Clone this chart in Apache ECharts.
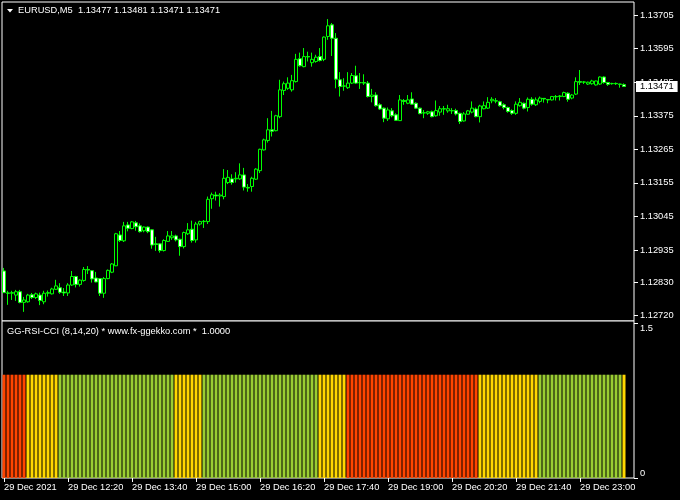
<!DOCTYPE html>
<html>
<head>
<meta charset="utf-8">
<script src="https://cdn.jsdelivr.net/npm/echarts@6/dist/echarts.min.js"></script>
<style>
html,body{margin:0;padding:0;background:#000;}
#chart{width:680px;height:500px;}
</style>
</head>
<body>
<div id="chart"></div>
<script>
// ---- Data (EURUSD M5, 29 Dec 2021, 11:00 .. 23:55) ----
const startTime = '11:00';
const barMinutes = 5;
const openP = [
1.12866,1.12794,1.12793,1.12787,1.12798,1.12763,1.12765,1.12788,1.12779,1.12787,
1.12765,1.12793,1.12791,1.12806,1.12811,1.12797,1.12794,1.12820,1.12848,1.12822,
1.12835,1.12871,1.12867,1.12843,1.12841,1.12793,1.12841,1.12862,1.12883,1.12984,
1.12965,1.13017,1.13005,1.13024,1.13014,1.12998,1.13010,1.13001,1.12955,1.12955,
1.12933,1.12963,1.12975,1.12981,1.12970,1.12946,1.12988,1.13003,1.12968,1.13020,
1.13028,1.13028,1.13103,1.13115,1.13112,1.13110,1.13156,1.13168,1.13168,1.13168,
1.13181,1.13140,1.13143,1.13167,1.13195,1.13263,1.13294,1.13329,1.13326,1.13372,
1.13458,1.13465,1.13460,1.13487,1.13562,1.13536,1.13569,1.13549,1.13553,1.13569,
1.13560,1.13635,1.13673,1.13629,1.13493,1.13472,1.13467,1.13482,1.13506,1.13483,
1.13484,1.13482,1.13438,1.13443,1.13411,1.13400,1.13365,1.13391,1.13378,1.13359,
1.13425,1.13416,1.13430,1.13416,1.13400,1.13384,1.13383,1.13388,1.13375,1.13387,
1.13398,1.13391,1.13392,1.13392,1.13383,1.13358,1.13380,1.13387,1.13397,1.13372,
1.13398,1.13400,1.13424,1.13424,1.13421,1.13411,1.13402,1.13392,1.13383,1.13408,
1.13416,1.13402,1.13429,1.13411,1.13422,1.13432,1.13428,1.13427,1.13438,1.13438,
1.13438,1.13449,1.13433,1.13446,1.13487,1.13485,1.13479,1.13480,1.13476,1.13479,
1.13502,1.13484,1.13480,1.13481,1.13479,1.13477];
const closeP = [
1.12795,1.12793,1.12795,1.12798,1.12763,1.12771,1.12787,1.12779,1.12791,1.12769,
1.12793,1.12795,1.12807,1.12817,1.12796,1.12794,1.12820,1.12848,1.12822,1.12836,
1.12871,1.12869,1.12840,1.12830,1.12793,1.12841,1.12868,1.12889,1.12988,1.12966,
1.13014,1.13006,1.13027,1.13011,1.12995,1.13010,1.12995,1.12951,1.12953,1.12933,
1.12966,1.12981,1.12981,1.12968,1.12946,1.12992,1.13001,1.12966,1.13020,1.13028,
1.13029,1.13101,1.13116,1.13112,1.13115,1.13170,1.13173,1.13156,1.13170,1.13181,
1.13141,1.13138,1.13170,1.13200,1.13265,1.13296,1.13329,1.13324,1.13375,1.13460,
1.13480,1.13482,1.13490,1.13560,1.13539,1.13569,1.13568,1.13560,1.13567,1.13556,
1.13633,1.13670,1.13629,1.13495,1.13471,1.13473,1.13482,1.13507,1.13482,1.13484,
1.13482,1.13438,1.13443,1.13408,1.13397,1.13367,1.13394,1.13375,1.13360,1.13427,
1.13422,1.13427,1.13413,1.13400,1.13382,1.13385,1.13388,1.13372,1.13392,1.13398,
1.13397,1.13398,1.13391,1.13381,1.13356,1.13381,1.13391,1.13400,1.13372,1.13407,
1.13408,1.13419,1.13429,1.13423,1.13408,1.13402,1.13389,1.13383,1.13413,1.13419,
1.13400,1.13429,1.13413,1.13427,1.13433,1.13430,1.13427,1.13438,1.13437,1.13440,
1.13451,1.13429,1.13443,1.13487,1.13485,1.13486,1.13485,1.13489,1.13489,1.13502,
1.13484,1.13478,1.13481,1.13480,1.13478,1.13471];
const highP = [
1.12876,1.12801,1.12801,1.12804,1.12804,1.12781,1.12791,1.12794,1.12795,1.12795,
1.12801,1.12802,1.12811,1.12837,1.12826,1.12810,1.12826,1.12866,1.12850,1.12839,
1.12879,1.12882,1.12869,1.12863,1.12843,1.12846,1.12871,1.12892,1.12991,1.12997,
1.13027,1.13027,1.13030,1.13030,1.13022,1.13012,1.13012,1.13003,1.12978,1.12957,
1.12970,1.12997,1.12997,1.12985,1.12972,1.12995,1.13023,1.13031,1.13027,1.13031,
1.13033,1.13110,1.13123,1.13126,1.13121,1.13200,1.13197,1.13183,1.13190,1.13219,
1.13204,1.13151,1.13175,1.13203,1.13267,1.13300,1.13367,1.13391,1.13378,1.13493,
1.13487,1.13501,1.13509,1.13578,1.13582,1.13597,1.13585,1.13582,1.13575,1.13597,
1.13635,1.13692,1.13679,1.13646,1.13518,1.13498,1.13518,1.13515,1.13539,1.13515,
1.13511,1.13489,1.13463,1.13452,1.13416,1.13402,1.13402,1.13400,1.13383,1.13443,
1.13430,1.13443,1.13452,1.13419,1.13402,1.13394,1.13391,1.13392,1.13425,1.13407,
1.13407,1.13411,1.13400,1.13398,1.13385,1.13387,1.13394,1.13422,1.13402,1.13411,
1.13422,1.13436,1.13436,1.13433,1.13424,1.13416,1.13405,1.13396,1.13422,1.13433,
1.13418,1.13435,1.13436,1.13435,1.13438,1.13433,1.13430,1.13440,1.13443,1.13443,
1.13454,1.13452,1.13446,1.13501,1.13525,1.13489,1.13487,1.13493,1.13490,1.13504,
1.13504,1.13486,1.13483,1.13484,1.13480,1.13481];
const lowP = [
1.12794,1.12755,1.12771,1.12768,1.12760,1.12732,1.12762,1.12774,1.12774,1.12754,
1.12757,1.12782,1.12789,1.12804,1.12791,1.12784,1.12784,1.12817,1.12812,1.12815,
1.12831,1.12856,1.12828,1.12829,1.12784,1.12778,1.12839,1.12859,1.12882,1.12961,
1.12961,1.12996,1.13003,1.12998,1.12992,1.12993,1.12990,1.12939,1.12932,1.12926,
1.12930,1.12961,1.12968,1.12963,1.12916,1.12940,1.12984,1.12959,1.12959,1.13015,
1.13007,1.13020,1.13070,1.13097,1.13077,1.13101,1.13151,1.13149,1.13156,1.13165,
1.13130,1.13126,1.13126,1.13165,1.13187,1.13261,1.13287,1.13307,1.13324,1.13367,
1.13443,1.13460,1.13454,1.13484,1.13536,1.13534,1.13553,1.13536,1.13549,1.13553,
1.13554,1.13624,1.13571,1.13465,1.13438,1.13457,1.13463,1.13479,1.13479,1.13463,
1.13476,1.13435,1.13419,1.13405,1.13394,1.13354,1.13358,1.13370,1.13358,1.13358,
1.13411,1.13413,1.13411,1.13397,1.13380,1.13367,1.13378,1.13370,1.13372,1.13375,
1.13378,1.13385,1.13381,1.13376,1.13348,1.13356,1.13378,1.13383,1.13370,1.13353,
1.13396,1.13397,1.13416,1.13416,1.13405,1.13396,1.13385,1.13378,1.13378,1.13405,
1.13396,1.13389,1.13408,1.13407,1.13416,1.13418,1.13416,1.13425,1.13425,1.13425,
1.13436,1.13421,1.13429,1.13443,1.13476,1.13479,1.13476,1.13477,1.13474,1.13476,
1.13480,1.13473,1.13477,1.13476,1.13467,1.13471];
// GG-RSI-CCI state per bar: R = down (red), Y = neutral (gold), G = up (green); value is always 1
const ggState = [
'R','R','R','R','R','R','Y','Y','Y','Y','Y','Y','Y','Y',
'G','G','G','G','G','G','G','G','G','G','G','G','G','G','G','G','G','G','G','G','G','G','G','G','G','G','G','G','G',
'Y','Y','Y','Y','Y','Y','Y',
'G','G','G','G','G','G','G','G','G','G','G','G','G','G','G','G','G','G','G','G','G','G','G','G','G','G','G','G','G',
'Y','Y','Y','Y','Y','Y','Y',
'R','R','R','R','R','R','R','R','R','R','R','R','R','R','R','R','R','R','R','R','R','R','R','R','R','R','R','R','R','R','R','R','R',
'Y','Y','Y','Y','Y','Y','Y','Y','Y','Y','Y','Y','Y','Y','Y',
'G','G','G','G','G','G','G','G','G','G','G','G','G','G','G','G','G','G','G','G','G',
'Y'];
const ggValue = 1;
const priceTicks = [1.12720,1.12830,1.12935,1.13045,1.13155,1.13265,1.13375,1.13485,1.13595,1.13705];
const indTicks = [0, 1.5];
const lastPrice = 1.13471;
const headerText = 'EURUSD,M5  1.13477 1.13481 1.13471 1.13471';
const indText = 'GG-RSI-CCI (8,14,20) * www.fx-ggekko.com *  1.0000';
const emptySlots = 2;

// ---- Build ----
const n = openP.length;
const [sh, sm] = startTime.split(':').map(Number);
const cats = [];
for (let i = 0; i < n + emptySlots; i++) {
  const t = sh * 60 + sm + i * barMinutes;
  const hh = String(Math.floor(t / 60)).padStart(2, '0');
  const mm = String(t % 60).padStart(2, '0');
  cats.push(i === 0 ? '29 Dec 2021' : '29 Dec ' + hh + ':' + mm);
}
const candleData = openP.map((o, i) => [o, closeP[i], lowP[i], highP[i]]);
const stateColor = { R: '#ff4500', Y: '#ffd700', G: '#9acd32' };
const histData = ggState.map(s => ({ value: ggValue, itemStyle: { color: stateColor[s] } }));

const FONT = 'Liberation Sans';
const FS = 9.3;
const labelEvery = (idx) => idx % 16 === 0 && idx < n;

const chart = echarts.init(document.getElementById('chart'), null, { renderer: 'canvas' });
chart.setOption({
  backgroundColor: '#000',
  animation: false,
  textStyle: { fontFamily: FONT },
  title: [
    { text: headerText, left: 18, top: 6, padding: 0,
      textStyle: { color: '#fff', fontSize: FS, fontWeight: 'normal', fontFamily: FONT } },
    { text: indText, left: 7, top: 327, padding: 0,
      textStyle: { color: '#fff', fontSize: FS, fontWeight: 'normal', fontFamily: FONT } }
  ],
  grid: [
    { left: 2, top: 2, width: 632, height: 319, show: true, borderColor: '#fff', borderWidth: 1, backgroundColor: '#000' },
    { left: 2, top: 321, width: 632, height: 157, show: true, borderColor: '#fff', borderWidth: 1, backgroundColor: '#000' }
  ],
  xAxis: [
    { type: 'category', gridIndex: 0, data: cats, boundaryGap: true,
      axisLine: { show: false }, axisTick: { show: false }, axisLabel: { show: false }, splitLine: { show: false } },
    { type: 'category', gridIndex: 1, data: cats, boundaryGap: true,
      axisLine: { show: false },
      axisTick: { show: true, alignWithLabel: true, interval: labelEvery, length: 4, lineStyle: { color: '#fff' } },
      axisLabel: { show: true, interval: labelEvery, align: 'left', color: '#fff', fontSize: FS, fontFamily: FONT, margin: 5 },
      splitLine: { show: false } }
  ],
  yAxis: [
    { type: 'value', gridIndex: 0, position: 'right', min: 1.12702, max: 1.13748,
      axisLine: { show: false },
      axisTick: { show: true, length: 4, lineStyle: { color: '#fff' }, customValues: priceTicks },
      axisLabel: { show: true, color: '#fff', fontSize: FS, fontFamily: FONT, margin: 6, customValues: priceTicks,
        formatter: v => v.toFixed(5) },
      splitLine: { show: false } },
    { type: 'value', gridIndex: 1, position: 'right', min: 0, max: 1.52,
      axisLine: { show: false },
      axisTick: { show: true, length: 4, lineStyle: { color: '#fff' }, customValues: indTicks },
      axisLabel: { show: true, color: '#fff', fontSize: FS, fontFamily: FONT, margin: 6, customValues: indTicks,
        formatter: v => v === 0 ? '{b|0}' : '{t|' + v + '}',
        rich: { t: { color: '#fff', fontSize: FS, fontFamily: FONT, padding: [10, 0, 0, 0] },
                b: { color: '#fff', fontSize: FS, fontFamily: FONT, padding: [0, 0, 10, 0] } } },
      splitLine: { show: false } }
  ],
  series: [
    { type: 'candlestick', xAxisIndex: 0, yAxisIndex: 0, data: candleData, barWidth: 3,
      itemStyle: { color: '#000', color0: '#fff', borderColor: '#00ff00', borderColor0: '#00ff00', borderWidth: 1 } },
    { type: 'bar', xAxisIndex: 1, yAxisIndex: 1, data: histData, barWidth: 3 }
  ]
});

// Bid price tag on the price axis, positioned through the chart's own y scale
const bidY = chart.convertToPixel({ yAxisIndex: 0 }, lastPrice);
chart.setOption({
  graphic: [
    { type: 'polygon', shape: { points: [[7, 9], [13, 9], [10, 12.5]] }, style: { fill: '#fff' } },
    { type: 'text', x: 636, y: bidY, z: 100,
      style: { text: lastPrice.toFixed(5), fill: '#000', backgroundColor: '#fff', padding: [1, 4, 1, 4],
        font: FS + 'px ' + FONT, verticalAlign: 'middle', align: 'left' } }
  ]
});
</script>
</body>
</html>
